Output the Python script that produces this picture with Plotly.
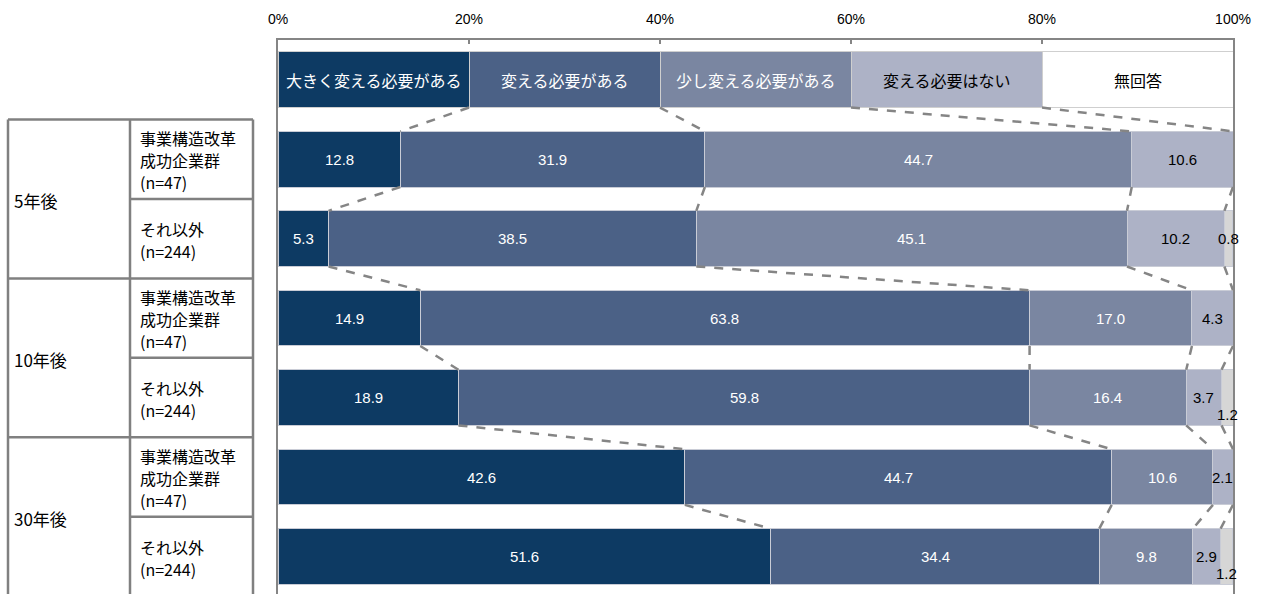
import plotly.graph_objects as go

# Answer categories (stack order, left to right)
CATEGORIES = ["大きく変える必要がある", "変える必要がある", "少し変える必要がある", "変える必要はない", "無回答"]

# Row headers: period blocks and respondent groups (one entry per text line)
PERIODS = ["5年後", "10年後", "30年後"]
GROUP_SUCCESS = ["事業構造改革", "成功企業群", "(n=47)"]
GROUP_OTHER = ["それ以外", "(n=244)"]

# Share of answers (%) per row: 5y success, 5y other, 10y success, 10y other, 30y success, 30y other
OOKIKU_KAERU = [12.8, 5.3, 14.9, 18.9, 42.6, 51.6]
KAERU = [31.9, 38.5, 63.8, 59.8, 44.7, 34.4]
SUKOSHI_KAERU = [44.7, 45.1, 17.0, 16.4, 10.6, 9.8]
KAERU_HITSUYOU_NASHI = [10.6, 10.2, 4.3, 3.7, 2.1, 2.9]
MUKAITOU = [0.0, 0.8, 0.0, 1.2, 0.0, 1.2]

# Key row drawn above the bars: each category gets an equal slot
LEGEND_SHARE = [20, 20, 20, 20, 20]

# X-axis ticks
TICKS = [0, 20, 40, 60, 80, 100]
TICK_LABELS = ["0%", "20%", "40%", "60%", "80%", "100%"]

SERIES = [OOKIKU_KAERU, KAERU, SUKOSHI_KAERU, KAERU_HITSUYOU_NASHI, MUKAITOU]
GROUPS = [GROUP_SUCCESS, GROUP_OTHER]

BAR_COLORS = ["#0d3a63", "#4b6186", "#7a86a1", "#adb2c6", "#d6d6d6"]
KEY_COLORS = ["#0d3a63", "#4b6186", "#7a86a1", "#adb2c6", "#ffffff"]
TEXT_COLORS = ["#ffffff", "#ffffff", "#ffffff", "#000000", "#000000"]

JP_FONT = "Noto Sans CJK JP, Noto Sans, sans-serif"
NUM_FONT = "Liberation Sans Narrow, Liberation Sans, Arial, sans-serif"
GRAY = "#858585"

W, H = 1264, 594
ML, MR, MT = 278, 31, 40
PLOT_W = W - ML - MR
LINE_GAP = 22  # px between header text lines


def px_to_paper_x(px):
    return (px - ML) / PLOT_W


n_rows = len(OOKIKU_KAERU)
row_pos = list(range(1, n_rows + 1))
all_pos = [0] + row_pos

fig = go.Figure()

# Stacked bars: key row (position 0) plus data rows
for k, (name, vals) in enumerate(zip(CATEGORIES, SERIES)):
    fig.add_trace(go.Bar(
        orientation="h",
        y=all_pos,
        x=[LEGEND_SHARE[k]] + vals,
        name=name,
        marker=dict(
            color=[KEY_COLORS[k]] + [BAR_COLORS[k]] * n_rows,
            line=dict(color=["#cfcfcf"] + ["#c9ccd6"] * n_rows, width=1),
        ),
        hoverinfo="skip",
    ))

annotations = []
shapes = []

# Category names inside the key row
cum = 0
for k, name in enumerate(CATEGORIES):
    annotations.append(dict(
        x=cum + LEGEND_SHARE[k] / 2, y=0, xref="x", yref="y",
        text=name, showarrow=False,
        font=dict(family=JP_FONT, size=16, color=TEXT_COLORS[k]),
    ))
    cum += LEGEND_SHARE[k]

# Value labels on each segment
for r in range(n_rows):
    cum = 0
    for k, vals in enumerate(SERIES):
        v = vals[r]
        if v > 0:
            yshift = 0
            # crowded tail: push the last label below the neighbouring one
            if k == len(SERIES) - 1 and SERIES[k - 1][r] < 5:
                yshift = -17
            annotations.append(dict(
                x=cum + v / 2, y=row_pos[r], xref="x", yref="y",
                text=f"{v:.1f}", showarrow=False, yshift=yshift,
                font=dict(family=NUM_FONT, size=15, color=TEXT_COLORS[k]),
            ))
        cum += v

# Dashed connectors between segment boundaries of consecutive rows
half = 0.35
rows_for_lines = [LEGEND_SHARE] + [[s[r] for s in SERIES] for r in range(n_rows)]
for i in range(len(rows_for_lines) - 1):
    a, b = rows_for_lines[i], rows_for_lines[i + 1]
    ca, cb = 0, 0
    for k in range(len(CATEGORIES) - 1):
        ca += a[k]
        cb += b[k]
        shapes.append(dict(
            type="line", xref="x", yref="y",
            x0=ca, y0=all_pos[i] + half, x1=cb, y1=all_pos[i + 1] - half,
            line=dict(color=GRAY, width=2.5, dash="dash"),
            layer="above",
        ))

# Row header table on the left
x_left, x_mid, x_right = px_to_paper_x(8), px_to_paper_x(130), px_to_paper_x(253)
tbl_line = dict(color="#808080", width=2.5)
for xv in (x_left, x_mid, x_right):
    shapes.append(dict(type="line", xref="paper", yref="y",
                       x0=xv, x1=xv, y0=0.5, y1=n_rows + 1, line=tbl_line))
for p in range(len(PERIODS)):
    y_top = 0.5 + 2 * p
    shapes.append(dict(type="line", xref="paper", yref="y",
                       x0=x_left, x1=x_right, y0=y_top, y1=y_top, line=tbl_line))
    shapes.append(dict(type="line", xref="paper", yref="y",
                       x0=x_mid, x1=x_right, y0=y_top + 1, y1=y_top + 1, line=tbl_line))
    annotations.append(dict(
        x=px_to_paper_x(12), y=y_top + 1, xref="paper", yref="y",
        text=PERIODS[p], showarrow=False, xanchor="left", yshift=-2,
        font=dict(family=JP_FONT, size=17, color="#000000"),
    ))
    for g, lines in enumerate(GROUPS):
        n = len(lines)
        for li, txt in enumerate(lines):
            offset = ((n - 1) / 2 - li) * LINE_GAP - 1
            annotations.append(dict(
                x=px_to_paper_x(138), y=y_top + 0.5 + g, xref="paper", yref="y",
                text=txt, showarrow=False, xanchor="left", align="left",
                yshift=offset,
                font=dict(family=JP_FONT, size=16, color="#000000"),
            ))

pitch = 79.5
y_bottom = -0.5 + (H - 39.75) / pitch

fig.update_layout(
    width=W, height=H,
    margin=dict(l=ML, r=MR, t=MT, b=0, pad=0),
    barmode="stack",
    bargap=0.3,
    showlegend=False,
    plot_bgcolor="#ffffff",
    paper_bgcolor="#ffffff",
    annotations=annotations,
    shapes=shapes,
    xaxis=dict(
        side="top", range=[0, 100], tickvals=TICKS, ticktext=TICK_LABELS,
        showgrid=False, zeroline=False,
        showline=True, linecolor=GRAY, linewidth=2,
        ticks="inside", ticklen=4, tickwidth=2, tickcolor=GRAY,
        ticklabelstandoff=8,
        tickfont=dict(family=NUM_FONT, size=14, color="#000000"),
        fixedrange=True,
    ),
    yaxis=dict(
        range=[y_bottom, -0.5], showticklabels=False, ticks="",
        showgrid=False, zeroline=False,
        showline=True, mirror=True, linecolor=GRAY, linewidth=2,
        fixedrange=True,
    ),
)

fig.write_html("out.html")
